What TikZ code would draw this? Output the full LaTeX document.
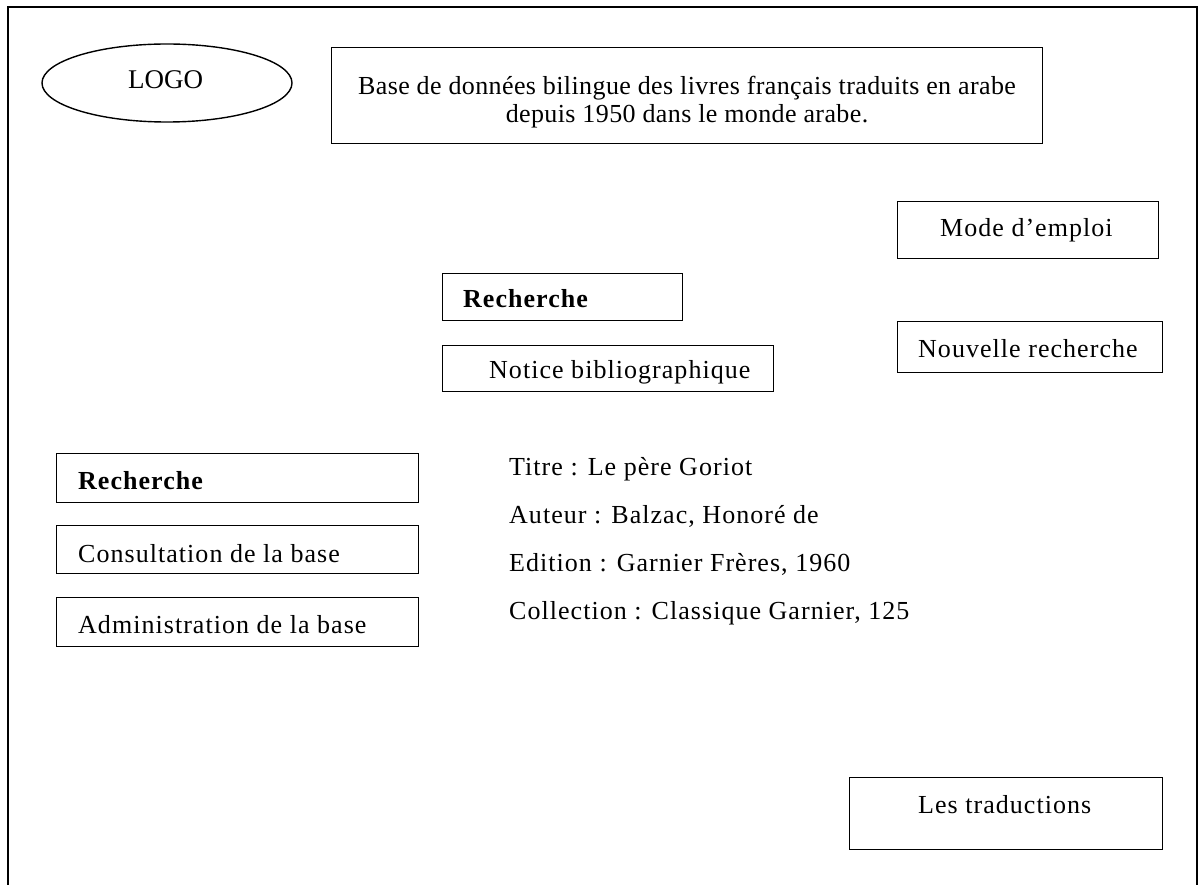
\documentclass[tikz,border=0pt]{standalone}
\usepackage{fontspec}
\setmainfont{Liberation Serif}
\newfontfamily\wide[LetterSpace=4]{Liberation Serif}
\newfontfamily\titlefont[LetterSpace=1.5]{Liberation Serif}
\usetikzlibrary{shapes.geometric}
\begin{document}
\begin{tikzpicture}[x=1pt,y=-1pt,
  frameline/.style={line width=2pt},
  boxshape/.style={draw,line width=1.4pt,rectangle,inner sep=0pt,anchor=north west},
  txt/.style={inner sep=0pt,anchor=base west,font=\fontsize{26}{28}\selectfont\wide},
  ttl/.style={inner sep=0pt,anchor=base,font=\fontsize{26}{28}\selectfont\titlefont},
  bold/.style={font=\fontsize{26}{28}\selectfont\wide\bfseries}]
\useasboundingbox (0,0) rectangle (1202,885);

% open page frame (no bottom edge)
\coordinate (fbl) at (8,886);
\coordinate (ftl) at (8,7);
\coordinate (ftr) at (1197,7);
\coordinate (fbr) at (1197,886);
\draw[frameline] (fbl) -- (ftl) -- (ftr) -- (fbr);

% header: logo and title
\node[draw,ellipse,line width=1.4pt,minimum width=250pt,minimum height=78pt,inner sep=0pt] (logo) at (167,83) {};
\node[txt,font=\fontsize{27}{28}\selectfont\rmfamily] (logotxt) at (128,89) {LOGO};

\node[boxshape,minimum width=711pt,minimum height=96pt] (titlebox) at (331,47) {};
\node[ttl] (title1) at (687,95) {Base de données bilingue des livres français traduits en arabe};
\node[ttl] (title2) at (687,123) {depuis 1950 dans le monde arabe.};

% right-hand buttons
\node[boxshape,minimum width=261pt,minimum height=57pt] (modebox) at (897,201) {};
\node[txt] (modetxt) at (940,237) {Mode d’emploi};

\node[boxshape,minimum width=265pt,minimum height=51pt] (nouvbox) at (897,321) {};
\node[txt] (nouvtxt) at (918,357) {Nouvelle recherche};

\node[boxshape,minimum width=313pt,minimum height=72pt] (tradbox) at (849,777) {};
\node[txt] (tradtxt) at (918,813) {Les traductions};

% central panel
\node[boxshape,minimum width=240pt,minimum height=47pt] (rechbox) at (442,273) {};
\node[txt,bold] (rechtxt) at (463,308) {Recherche};

\node[boxshape,minimum width=331pt,minimum height=46pt] (noticebox) at (442,345) {};
\begin{scope}
  \clip (442,345) rectangle (773,390);
  \node[txt] (noticetxt) at (489,378) {Notice bibliographique};
\end{scope}

\node[txt] (titre) at (509,475) {Titre : Le père Goriot};
\node[txt] (auteur) at (509,523) {Auteur : Balzac, Honoré de};
\node[txt] (edition) at (509,571) {Edition : Garnier Frères, 1960};
\node[txt] (collection) at (509,619) {Collection : Classique Garnier, 125};

% left-hand menu
\node[boxshape,minimum width=362pt,minimum height=49pt] (menu1) at (56,453) {};
\node[txt,bold] (menu1txt) at (78,489) {Recherche};

\node[boxshape,minimum width=362pt,minimum height=48pt] (menu2) at (56,525) {};
\node[txt] (menu2txt) at (78,562) {Consultation de la base};

\node[boxshape,minimum width=362pt,minimum height=49pt] (menu3) at (56,597) {};
\node[txt] (menu3txt) at (78,633) {Administration de la base};
\end{tikzpicture}
\end{document}
